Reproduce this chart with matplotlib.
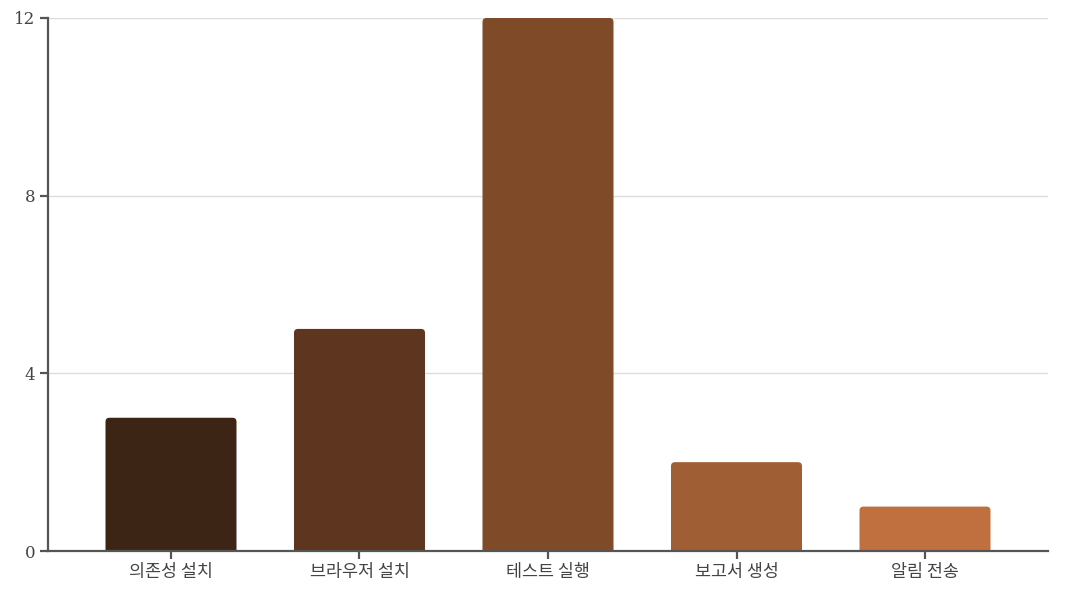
import matplotlib
matplotlib.use("Agg")
import matplotlib.pyplot as plt
from matplotlib.path import Path
from matplotlib.patches import PathPatch

plt.rcParams['font.family'] = ['Noto Sans CJK KR', 'DejaVu Sans']

# data
steps = ['의존성 설치', '브라우저 설치', '테스트 실행', '보고서 생성', '알림 전송']
minutes = [3, 5, 12, 2, 1]
colors = ['#3d2516', '#5e361f', '#7f4a28', '#a05e34', '#c0703e']
yticks = [0, 4, 8, 12]

W, H = 1067, 589
fig = plt.figure(figsize=(W / 100, H / 100), dpi=100)
ax = fig.add_axes([48 / W, 38 / H, 1000 / W, 533 / H])

x = list(range(len(steps)))
bars = ax.bar(x, minutes, width=0.695, color=colors)

pad = 0.6525
ax.set_xlim(-pad, len(steps) - 1 + pad)
ax.set_ylim(0, 12)

# rounded top corners: replace each bar with a path built from its geometry
rx = 4 / (1000 / (len(steps) - 1 + 2 * pad))
ry = 4 / (533 / 12)
for b in bars:
    x0, y0, w, h = b.get_x(), b.get_y(), b.get_width(), b.get_height()
    x1, y1 = x0 + w, y0 + h
    verts = [(x0, y0), (x0, y1 - ry), (x0, y1), (x0 + rx, y1),
             (x1 - rx, y1), (x1, y1), (x1, y1 - ry), (x1, y0), (x0, y0)]
    codes = [Path.MOVETO, Path.LINETO, Path.CURVE3, Path.CURVE3,
             Path.LINETO, Path.CURVE3, Path.CURVE3, Path.LINETO, Path.CLOSEPOLY]
    ax.add_patch(PathPatch(Path(verts, codes), fc=b.get_facecolor(), ec='none',
                           clip_on=False, zorder=2))
    b.set_visible(False)

ax.set_yticks(yticks)
ax.set_yticklabels([str(t) for t in yticks], family='DejaVu Serif', fontsize=12, color='#444444')
ax.set_xticks(x)
ax.set_xticklabels(steps, fontsize=12.5, color='#444444')

for t in yticks[1:]:
    ax.axhline(t, color='#dddddd', lw=1, zorder=0)

for s in ['top', 'right']:
    ax.spines[s].set_visible(False)
for s in ['left', 'bottom']:
    ax.spines[s].set_color('#555555')
    ax.spines[s].set_linewidth(1.6)
    ax.spines[s].set_zorder(3)
ax.tick_params(axis='both', length=6, width=1.6, color='#555555', pad=3)

fig.savefig('out.png', dpi=100)
